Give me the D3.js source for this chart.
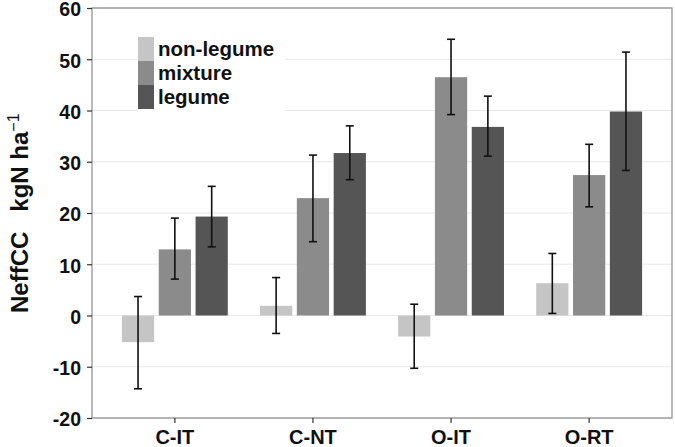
<!DOCTYPE html>
<html>
<head>
<meta charset="utf-8">
<script src="https://cdn.jsdelivr.net/npm/d3@7"></script>
<style>
  body { margin: 0; background: #fff; }
  text { font-family: "Liberation Sans", Arial, sans-serif; font-weight: bold; }
</style>
</head>
<body>
<svg id="chart"></svg>
<script>
// data
const categories = ['C-IT', 'C-NT', 'O-IT', 'O-RT'];
const groups = ['non-legume', 'mixture', 'legume'];
const nonLegume = [-5.2, 1.9, -4.1, 6.3];
const mixture = [12.9, 22.9, 46.5, 27.4];
const legume = [19.3, 31.7, 36.8, 39.8];
const nonLegumeErr = [[-14.3, 3.7], [-3.5, 7.4], [-10.3, 2.2], [0.4, 12.1]];
const mixtureErr = [[7.1, 19.0], [14.4, 31.3], [39.2, 53.9], [21.2, 33.4]];
const legumeErr = [[13.4, 25.2], [26.5, 37.0], [31.1, 42.8], [28.3, 51.4]];
const yTicks = [-20, -10, 0, 10, 20, 30, 40, 50, 60];

const width = 675, height = 447;
const margin = { top: 8, right: 3, bottom: 29, left: 92 };
const colors = ['#c5c5c5', '#8b8b8b', '#555555'];

const values = [nonLegume, mixture, legume];
const errs = [nonLegumeErr, mixtureErr, legumeErr];
const rows = [];
categories.forEach((c, i) => {
  groups.forEach((g, j) => {
    rows.push({ cat: c, group: g, value: values[j][i], lo: errs[j][i][0], hi: errs[j][i][1] });
  });
});

const svg = d3.select('#chart')
  .attr('width', width)
  .attr('height', height);

const x = d3.scaleBand()
  .domain(categories)
  .range([margin.left, width - margin.right])
  .paddingInner(0.2)
  .paddingOuter(0.2);

const xSub = d3.scaleBand()
  .domain(groups)
  .range([0, x.bandwidth()])
  .paddingInner(0.125)
  .paddingOuter(0.0625);

const y = d3.scaleLinear()
  .domain([-20, 60])
  .range([height - margin.bottom, margin.top]);

const color = d3.scaleOrdinal().domain(groups).range(colors);

// grid
svg.append('g')
  .selectAll('line')
  .data(yTicks)
  .enter()
  .append('line')
  .attr('x1', margin.left)
  .attr('x2', width - margin.right)
  .attr('y1', d => y(d))
  .attr('y2', d => y(d))
  .attr('stroke', '#e8e8e8')
  .attr('stroke-width', 1.2);

// bars
svg.append('g')
  .selectAll('rect')
  .data(rows)
  .enter()
  .append('rect')
  .attr('x', d => x(d.cat) + xSub(d.group))
  .attr('y', d => y(Math.max(0, d.value)))
  .attr('width', xSub.bandwidth())
  .attr('height', d => Math.abs(y(d.value) - y(0)))
  .attr('fill', d => color(d.group));

// error bars
const capW = 4;
const eb = svg.append('g')
  .attr('stroke', '#111')
  .attr('stroke-width', 1.6)
  .selectAll('g')
  .data(rows)
  .enter()
  .append('g')
  .attr('transform', d => `translate(${x(d.cat) + xSub(d.group) + xSub.bandwidth() / 2},0)`);
eb.append('line').attr('y1', d => y(d.lo)).attr('y2', d => y(d.hi));
eb.append('line').attr('x1', -capW).attr('x2', capW).attr('y1', d => y(d.lo)).attr('y2', d => y(d.lo));
eb.append('line').attr('x1', -capW).attr('x2', capW).attr('y1', d => y(d.hi)).attr('y2', d => y(d.hi));

// panel border
svg.append('rect')
  .attr('x', margin.left)
  .attr('y', margin.top)
  .attr('width', width - margin.left - margin.right)
  .attr('height', height - margin.top - margin.bottom)
  .attr('fill', 'none')
  .attr('stroke', '#8a8a8a')
  .attr('stroke-width', 1.2);

// axes
const yAxis = svg.append('g')
  .attr('transform', `translate(${margin.left},0)`)
  .call(d3.axisLeft(y).tickValues(yTicks).tickFormat(d => String(d)).tickSize(5).tickPadding(6));
const xAxis = svg.append('g')
  .attr('transform', `translate(0,${height - margin.bottom})`)
  .call(d3.axisBottom(x).tickSize(5).tickPadding(5));
[yAxis, xAxis].forEach(a => {
  a.select('.domain').remove();
  a.selectAll('.tick line').attr('stroke', '#333').attr('stroke-width', 1.2);
  a.selectAll('.tick text').attr('fill', '#111').style('font-family', '"Liberation Sans", Arial, sans-serif');
});
yAxis.selectAll('.tick text').style('font-size', '19.5px').attr('dy', '0.4em');
xAxis.selectAll('.tick text').style('font-size', '20px').attr('dy', '0.8em');

// y label
const yl = svg.append('text')
  .attr('transform', 'translate(28,313) rotate(-90)')
  .attr('text-anchor', 'start')
  .attr('fill', '#111')
  .style('font-size', '24px');
yl.append('tspan').text('NeffCC\u00a0\u00a0\u00a0kgN ha');
yl.append('tspan').text('\u22121').attr('dy', '-0.55em').style('font-size', '16px').style('font-weight', 'normal');

// legend
const lg = svg.append('g').attr('transform', 'translate(138,37)');
lg.append('rect')
  .attr('x', -1).attr('y', -4)
  .attr('width', 148).attr('height', 79)
  .attr('fill', '#fff');
lg.selectAll('rect.key')
  .data(groups)
  .enter()
  .append('rect')
  .attr('class', 'key')
  .attr('x', 0)
  .attr('y', (d, i) => i * 24)
  .attr('width', 16)
  .attr('height', 24)
  .attr('fill', d => color(d));
lg.selectAll('text')
  .data(groups)
  .enter()
  .append('text')
  .attr('x', 20)
  .attr('y', (d, i) => i * 24 + 12)
  .attr('dy', '0.35em')
  .attr('fill', '#111')
  .style('font-size', '20.5px')
  .text(d => d);
</script>
</body>
</html>
